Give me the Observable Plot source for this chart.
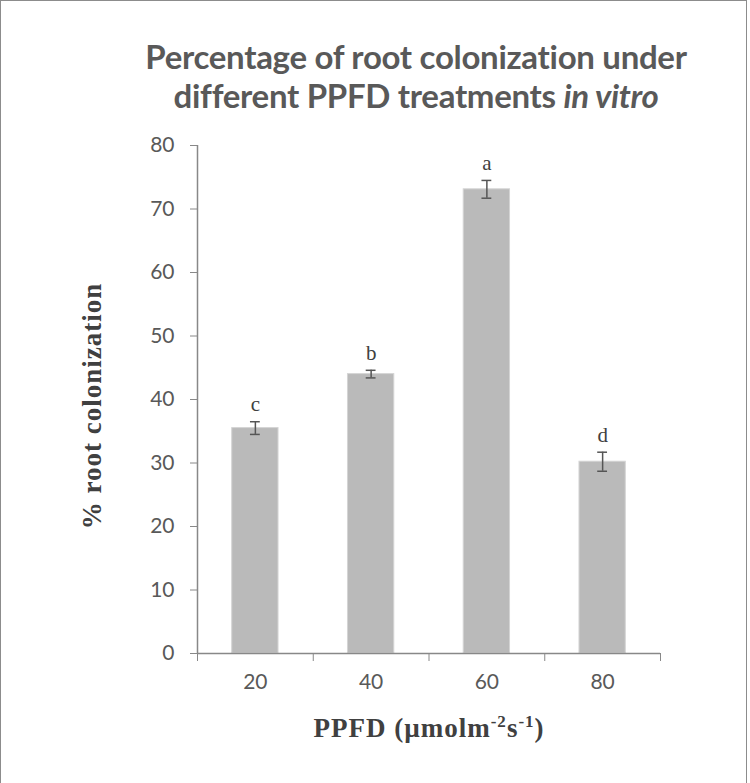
<!DOCTYPE html>
<html>
<head>
<meta charset="utf-8">
<script src="https://cdn.jsdelivr.net/npm/d3@7"></script>
<script src="https://cdn.jsdelivr.net/npm/@observablehq/plot@0.6"></script>
<style>
  html, body { margin: 0; padding: 0; background: #fff; }
  #wrap { position: relative; width: 750px; height: 783px; overflow: hidden; }
  #border { position: absolute; left: 0; top: 0; width: 747px; height: 790px; border: 1px solid #8c8c8c; box-sizing: border-box; }
  #title { position: absolute; left: 0; top: 37px; width: 832px; text-align: center; font-family: Lato, sans-serif; font-weight: bold; font-size: 33px; line-height: 39px; color: #595959; letter-spacing: -0.3px; }
  #ylab { position: absolute; left: 92px; top: 406px; transform: translate(-50%, -50%) rotate(-90deg); white-space: nowrap; font-family: "Liberation Serif", serif; font-weight: bold; font-size: 27px; color: #404040; letter-spacing: 1px; }
  #xlab { position: absolute; left: 429px; top: 728px; transform: translate(-50%, -50%); white-space: nowrap; font-family: "Liberation Serif", serif; font-weight: bold; font-size: 27px; color: #404040; letter-spacing: 1px; }
  #xlab sup { font-size: 17px; }
  #chart { position: absolute; left: 0; top: 0; }
</style>
</head>
<body>
<div id="wrap">
  <div id="chart"></div>
  <div id="border"></div>
  <div id="title">Percentage of root colonization under<br>different PPFD treatments <i>in vitro</i></div>
  <div id="ylab">% root colonization</div>
  <div id="xlab">PPFD (µmolm<sup>-2</sup>s<sup>-1</sup>)</div>
</div>
<script>
const ppfd = [20, 40, 60, 80];
const colonization = [35.5, 44.0, 73.1, 30.2];
const stdErr = [1.0, 0.6, 1.4, 1.5];
const letters = ["c", "b", "a", "d"];
const yTicks = [0, 10, 20, 30, 40, 50, 60, 70, 80];
const xBoundaries = [10, 30, 50, 70, 90];

const data = ppfd.map((p, i) => ({ppfd: p, value: colonization[i], err: stdErr[i], letter: letters[i]}));

const halfBar = 4;
const halfCap = 0.85;
const axisColor = "#888888";
const textColor = "#595959";

const plot = Plot.plot({
  width: 750,
  height: 783,
  marginLeft: 197,
  marginRight: 90,
  marginTop: 145,
  marginBottom: 130,
  style: {fontFamily: "Lato, sans-serif", background: "transparent"},
  x: {domain: [10, 90]},
  y: {domain: [0, 80]},
  marks: [
    Plot.rectY(data, {x1: d => d.ppfd - halfBar, x2: d => d.ppfd + halfBar, y1: 0, y2: "value", fill: "#bababa", stroke: "#d4d4d4", strokeWidth: 1}),
    Plot.ruleX(data, {x: "ppfd", y1: d => d.value - d.err, y2: d => d.value + d.err, stroke: "#555", strokeWidth: 1.5}),
    Plot.ruleY(data, {y: d => d.value + d.err, x1: d => d.ppfd - halfCap, x2: d => d.ppfd + halfCap, stroke: "#555", strokeWidth: 1.5}),
    Plot.ruleY(data, {y: d => d.value - d.err, x1: d => d.ppfd - halfCap, x2: d => d.ppfd + halfCap, stroke: "#555", strokeWidth: 1.5}),
    Plot.text(data, {x: "ppfd", y: d => d.value + d.err, text: "letter", dy: -17, fontFamily: "Liberation Serif, serif", fontSize: 21, fill: "#404040"}),
    Plot.ruleY([0], {stroke: axisColor, strokeWidth: 1.5}),
    Plot.ruleX([10], {y1: 0, y2: 80, stroke: axisColor, strokeWidth: 1.5}),
    Plot.axisY({ticks: yTicks, tickSize: 7, tickPadding: 16, fontSize: 21, stroke: axisColor, fill: textColor, label: null}),
    Plot.axisX({ticks: xBoundaries, tickSize: 8, tickFormat: () => "", stroke: axisColor, label: null}),
    Plot.axisX({ticks: ppfd, tickSize: 0, tickPadding: 21, fontSize: 21, fill: textColor, label: null})
  ]
});
document.getElementById("chart").appendChild(plot);
</script>
</body>
</html>
